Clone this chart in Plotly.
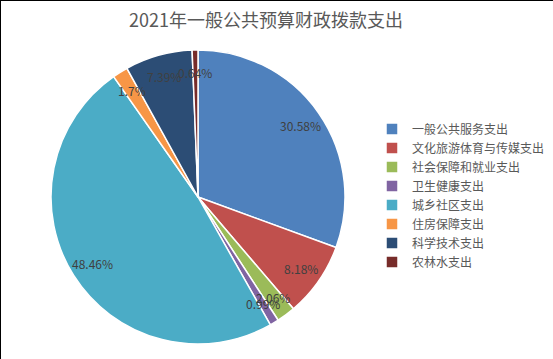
import numpy as np
import plotly.graph_objects as go

categories = ["一般公共服务支出", "文化旅游体育与传媒支出", "社会保障和就业支出", "卫生健康支出",
              "城乡社区支出", "住房保障支出", "科学技术支出", "农林水支出"]
values = [30.58, 8.18, 2.06, 0.99, 48.46, 1.70, 7.39, 0.64]
label_texts = ["30.58%", "8.18%", "2.06%", "0.99%", "48.46%", "1.7%", "7.39%", "0.64%"]
colors = ["#4F81BD", "#C0504D", "#9BBB59", "#8064A2", "#4BACC6", "#F79646", "#2C4D75", "#772C2A"]

W, H = 553, 359
font = "Noto Sans CJK SC"

# pie geometry (pixels)
cx_px, cy_px, R_px = 198, 197, 147
dom_x = [(cx_px - R_px) / W, (cx_px + R_px) / W]
dom_y = [1 - (cy_px + R_px) / H, 1 - (cy_px - R_px) / H]

fig = go.Figure(go.Pie(
    labels=categories, values=values, sort=False, direction="clockwise", rotation=0,
    marker=dict(colors=colors, line=dict(color="white", width=1.5)),
    textinfo="none", hoverinfo="label+percent",
    domain=dict(x=dom_x, y=dom_y),
))

# label annotations at slice mid-angles
vals = np.array(values)
total = vals.sum()
cum = np.cumsum(vals) - vals / 2
theta = cum / total * 2 * np.pi
frac = 0.85
annotations = []
for t, txt in zip(theta, label_texts):
    x = (cx_px + frac * R_px * np.sin(t)) / W
    y = 1 - (cy_px - frac * R_px * np.cos(t)) / H
    annotations.append(dict(x=x, y=y, xref="paper", yref="paper", text=txt, showarrow=False,
                            font=dict(family=font, size=12, color="#404040"),
                            xanchor="center", yanchor="middle"))

fig.update_layout(
    width=W, height=H,
    margin=dict(l=0, r=0, t=0, b=0),
    paper_bgcolor="white", plot_bgcolor="white",
    title=dict(text="2021年一般公共预算财政拨款支出", x=266 / W, xanchor="center", y=1 - 21 / H,
               yanchor="middle", font=dict(family=font, size=18, color="#595959")),
    legend=dict(x=372 / W, y=1 - 114.5 / H, xanchor="left", yanchor="top",
                font=dict(family=font, size=12, color="#595959"), itemclick=False),
    annotations=annotations,
    shapes=[
        dict(type="line", xref="paper", yref="paper", x0=0, x1=0, y0=0, y1=1, line=dict(color="black", width=2)),
        dict(type="line", xref="paper", yref="paper", x0=0, x1=1, y0=1, y1=1, line=dict(color="black", width=2)),
    ],
)

fig.write_html("out.html", config={"displayModeBar": False},
               post_script="document.body.style.margin='0';")
